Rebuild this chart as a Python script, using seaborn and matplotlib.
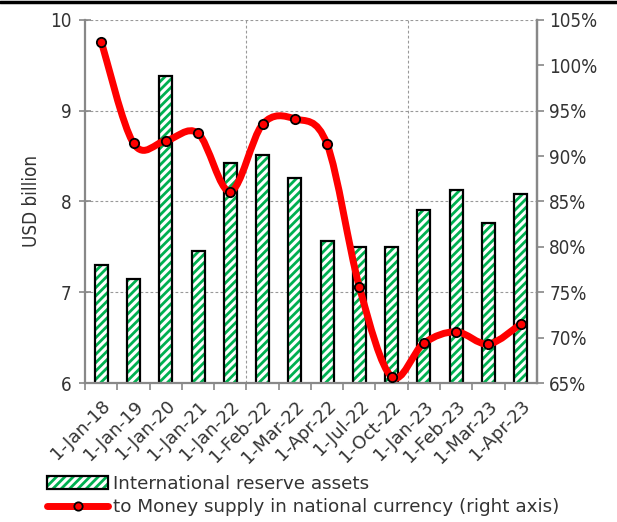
import numpy as np
import pandas as pd
import matplotlib
matplotlib.use("Agg")
import matplotlib.pyplot as plt
import seaborn as sns
from matplotlib.path import Path
from matplotlib.patches import PathPatch, Patch
from matplotlib.lines import Line2D

categories = ["1-Jan-18", "1-Jan-19", "1-Jan-20", "1-Jan-21", "1-Jan-22", "1-Feb-22",
              "1-Mar-22", "1-Apr-22", "1-Jul-22", "1-Oct-22", "1-Jan-23", "1-Feb-23",
              "1-Mar-23", "1-Apr-23"]
reserves = [7.30, 7.15, 9.38, 7.45, 8.42, 8.51, 8.26, 7.56, 7.50, 7.50, 7.91, 8.13, 7.76, 8.08]
money_ratio = [102.6, 91.4, 91.7, 92.5, 86.1, 93.5, 94.1, 91.3, 75.6, 65.7, 69.4, 70.65, 69.3, 71.5]
bar_label = "International reserve assets"
line_label = "to Money supply in national currency (right axis)"
left_ticks = [6, 7, 8, 9, 10]
right_ticks = [65, 70, 75, 80, 85, 90, 95, 100, 105]

sns.set_style("white")
plt.rcParams["font.family"] = ["DejaVu Sans"]
plt.rcParams["font.stretch"] = "condensed"
plt.rcParams["hatch.linewidth"] = 2.0

GREEN = "#00B050"
GRAY = "#888888"
TXT = "#333333"

df = pd.DataFrame({"cat": categories, "val": reserves})

fig = plt.figure(figsize=(6.17, 5.22), dpi=100)
ax = fig.add_axes([0.138, 0.266, 0.732, 0.696])

# hatched fill
sns.barplot(data=df, x="cat", y="val", ax=ax, color="white", width=0.40,
            edgecolor=GREEN, linewidth=0, hatch="////", saturation=1)
# black outline
sns.barplot(data=df, x="cat", y="val", ax=ax, fill=False, width=0.40,
            edgecolor="black", linewidth=1.6)

ax.set_ylim(6, 10)
ax.set_xlim(-0.5, len(categories) - 0.5)
ax.set_yticks(left_ticks)
ax.set_yticklabels([str(t) for t in left_ticks], fontsize=13.5, color=TXT)
ax.set_ylabel("USD billion", fontsize=13.5, color=TXT, labelpad=6)
ax.set_xlabel("")

# category ticks at boundaries; labels at centers
ax.set_xticks(np.arange(len(categories)) - 0.5, minor=False)
ax.set_xticklabels([])
ax.set_xticks(np.arange(len(categories)), minor=True)
ax.set_xticklabels(categories, minor=True, rotation=45, ha="right",
                   rotation_mode="anchor", fontsize=13, color=TXT,
                   fontstretch="normal")
ax.tick_params(axis="x", which="major", direction="out", length=5, width=1.2, color=GRAY, bottom=True)
ax.tick_params(axis="x", which="minor", length=0, pad=10, bottom=True)
ax.tick_params(axis="y", direction="inout", length=8, width=1.2, color=GRAY, pad=6, left=True)

# grid
for y in [7, 8, 9, 10]:
    ax.axhline(y, color="#999999", lw=0.8, ls=(0, (2.5, 2)), zorder=0)
for x in [4.5, 9.5]:
    ax.axvline(x, color="#999999", lw=0.8, ls=(0, (2.5, 2)), zorder=0)

ax.spines["top"].set_visible(False)
for s in ["left", "bottom", "right"]:
    ax.spines[s].set_color(GRAY)
    ax.spines[s].set_linewidth(1.6)

ax2 = ax.twinx()
ax2.set_ylim(65, 105)
ax2.set_yticks(right_ticks)
ax2.set_yticklabels([f"{t}%" for t in right_ticks], fontsize=13.5, color=TXT)
ax2.tick_params(axis="y", direction="out", length=5, width=1.2, color=GRAY, pad=4)
ax2.spines["top"].set_visible(False)
ax2.spines["left"].set_visible(False)
ax2.spines["bottom"].set_visible(False)
ax2.spines["right"].set_color(GRAY)
ax2.spines["right"].set_linewidth(1.6)

# smooth curve (Catmull-Rom converted to cubic Bezier segments, drawn by matplotlib)
xs = np.arange(len(money_ratio), dtype=float)
ys = np.asarray(money_ratio, dtype=float)
verts = [(xs[0], ys[0])]
codes = [Path.MOVETO]
n = len(xs)
for i in range(n - 1):
    p0 = np.array([xs[max(i - 1, 0)], ys[max(i - 1, 0)]])
    p1 = np.array([xs[i], ys[i]])
    p2 = np.array([xs[i + 1], ys[i + 1]])
    p3 = np.array([xs[min(i + 2, n - 1)], ys[min(i + 2, n - 1)]])
    c1 = p1 + (p2 - p0) / 6.0
    c2 = p2 - (p3 - p1) / 6.0
    verts += [tuple(c1), tuple(c2), tuple(p2)]
    codes += [Path.CURVE4] * 3
ax2.add_patch(PathPatch(Path(verts, codes), facecolor="none", edgecolor="red",
                        lw=5, capstyle="round", joinstyle="round", zorder=3))
sns.scatterplot(x=xs, y=ys, ax=ax2, color="red", edgecolor="black", linewidth=1.3,
                s=45, zorder=4, legend=False)

# legend
bar_fill = Patch(facecolor="white", edgecolor=GREEN, hatch="////", lw=0)
bar_edge = Patch(facecolor="none", edgecolor="black", lw=1.6)
line_h = Line2D([0], [0], color="red", lw=5, marker="o", markersize=6,
                markerfacecolor="red", markeredgecolor="black", markeredgewidth=1.3)
leg = fig.legend([(bar_fill, bar_edge), line_h], [bar_label, line_label], loc="upper left",
                 bbox_to_anchor=(0.065, 0.105), frameon=False,
                 prop={"size": 13.2, "stretch": "normal"},
                 handlelength=3.3, handleheight=0.7, handletextpad=0.3,
                 labelspacing=0.3, borderaxespad=0)
for t in leg.get_texts():
    t.set_color(TXT)

fig.add_artist(Line2D([0, 1], [0.997, 0.997], transform=fig.transFigure, color="black", lw=2.5))

fig.savefig("out.png", dpi=100)
